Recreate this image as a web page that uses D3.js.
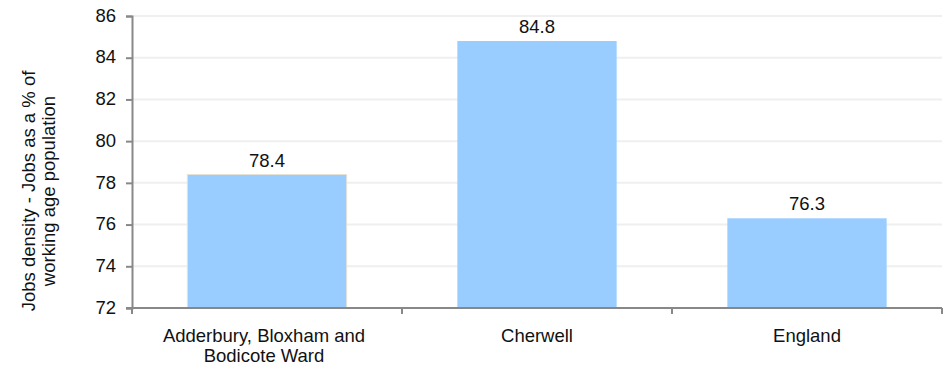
<!DOCTYPE html>
<html><head><meta charset="utf-8">
<script src="https://cdn.jsdelivr.net/npm/d3@7"></script>
<style>body{margin:0;background:#fff}svg{display:block}text{font-family:"Liberation Sans",Arial,sans-serif}</style>
</head><body><svg id="c" width="944" height="368"></svg>
<script>
const categories = [["Adderbury, Bloxham and","Bodicote Ward"],["Cherwell"],["England"]];
const values = [78.4, 84.8, 76.3];
const yTicks = [72,74,76,78,80,82,84,86];
const yTitle = ["Jobs density - Jobs as a % of","working age population"];

const FS = 18.5;
const svg = d3.select("#c");
const L=132,R=942,T=16,B=308;
const keys = categories.map(c=>c.join(" "));
const x = d3.scaleBand().domain(keys).range([L,R]).paddingInner(0.41).paddingOuter(0.205);
const y = d3.scaleLinear().domain([72,86]).range([B,T]);

// gridlines
svg.append("g").selectAll("line").data(yTicks.slice(1)).join("line")
  .attr("x1",L).attr("x2",R).attr("y1",d=>y(d)).attr("y2",d=>y(d))
  .attr("stroke","#efefef").attr("stroke-width",2);

// bars
svg.append("g").selectAll("rect").data(values).join("rect")
  .attr("x",(d,i)=>x(keys[i])).attr("width",x.bandwidth())
  .attr("y",d=>y(d)).attr("height",d=>B-y(d))
  .attr("fill","#99ccff")
  .attr("stroke",(d,i)=>i===0?"#e6e2d6":"none").attr("stroke-width",1);

// value labels
svg.append("g").selectAll("text").data(values).join("text")
  .attr("x",(d,i)=>x(keys[i])+x.bandwidth()/2).attr("y",d=>y(d)-8)
  .attr("text-anchor","middle").attr("font-size",FS).attr("fill","#111")
  .text(d=>d.toFixed(1));

// y axis
const ya = svg.append("g").attr("transform",`translate(${L},0)`)
  .call(d3.axisLeft(y).tickValues(yTicks).tickSize(6).tickPadding(10).tickFormat(d3.format("d")));
ya.select(".domain").attr("stroke","#888").attr("stroke-width",2);
ya.selectAll(".tick line").attr("stroke","#888").attr("stroke-width",2);
ya.selectAll("text").attr("font-size",FS).attr("fill","#111").attr("dy","0.28em")
  .attr("font-family",'"Liberation Sans",Arial,sans-serif');

// x axis
const bx = d3.scaleLinear().domain([0,3]).range([L,R]);
svg.append("line").attr("x1",L-6).attr("x2",R).attr("y1",B).attr("y2",B).attr("stroke","#888").attr("stroke-width",2);
svg.append("g").selectAll("line").data([0,1,2,3]).join("line")
  .attr("x1",d=>bx(d)).attr("x2",d=>bx(d)).attr("y1",B).attr("y2",B+6)
  .attr("stroke","#888").attr("stroke-width",2);

// x labels
const xl = svg.append("g").selectAll("text").data(categories).join("text")
  .attr("text-anchor","middle").attr("font-size",FS).attr("fill","#111")
  .attr("x",(d,i)=>x(keys[i])+x.bandwidth()/2 - (i===0?3:0)).attr("y",342);
xl.selectAll("tspan").data(d=>d).join("tspan")
  .attr("x",function(){return this.parentNode.getAttribute("x");})
  .attr("dy",(d,i)=>i===0?0:20).text(d=>d);

// y title
const yt = svg.append("text").attr("transform","translate(35,191) rotate(-90)")
  .attr("text-anchor","middle").attr("font-size",FS).attr("fill","#111");
yt.selectAll("tspan").data(yTitle).join("tspan").attr("x",0).attr("dy",(d,i)=>i===0?0:20).text(d=>d);
</script></body></html>
